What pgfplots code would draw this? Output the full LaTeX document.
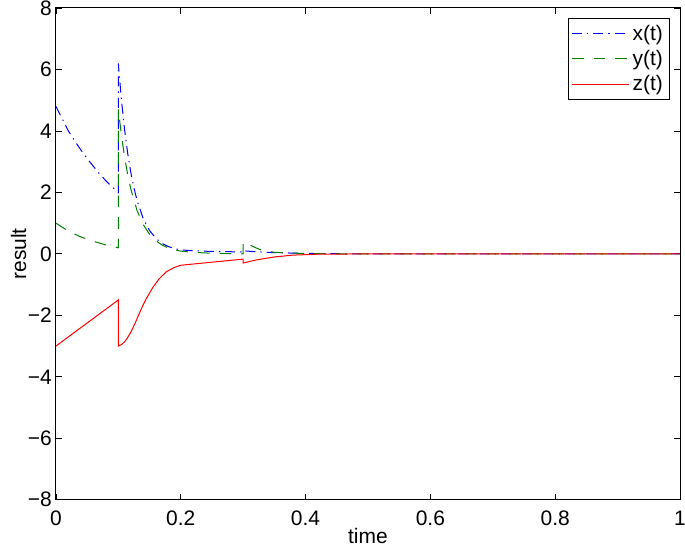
\documentclass[border=0pt]{standalone}
\usepackage{pgfplots}
\pgfplotsset{compat=1.18}
\usepackage{fontspec}
\setmainfont{Liberation Sans}
\definecolor{mblue}{RGB}{0,0,255}
\definecolor{mgreen}{RGB}{0,128,0}
\definecolor{mred}{RGB}{255,0,0}

\begin{document}
\begin{tikzpicture}
\begin{axis}[width=375pt, height=295.5pt, scale only axis,
  xmin=0, xmax=1, ymin=-8, ymax=8,
  xtick={0,0.2,0.4,0.6,0.8,1},
  xticklabels={0,0.2,0.4,0.6,0.8,1},
  ytick={-8,-6,-4,-2,0,2,4,6,8},
  yticklabels={−8,−6,−4,−2,0,2,4,6,8},
  tick align=inside, major tick length=3.6pt,
  tick style={black, line width=0.5pt},
  axis line style={black, line width=0.6pt},
  font=\fontsize{12.6}{15}\selectfont,
  xlabel={time}, ylabel={result},
  xlabel style={yshift=5pt},
  ylabel style={yshift=-6pt},
  xticklabel style={yshift=-3pt},
  yticklabel style={xshift=1pt},
  legend cell align=left,
  legend style={at={(0.984,0.98)}, anchor=north east, draw=black,
    line width=0.6pt, font=\fontsize{12.6}{15}\selectfont,
    row sep=0.5pt, inner sep=2pt},
  legend image code/.code={\draw[#1] (0pt,0pt) -- (34pt,0pt);},
]
\addplot[color=mblue, draw=mblue, line width=0.6pt, dash pattern=on 6pt off 3pt on 0.8pt off 3pt] coordinates {
 (0,4.8) (0.01,4.4) (0.02,4.0) (0.03,3.68) (0.04,3.38) (0.05,3.1)
 (0.06,2.85) (0.07,2.6) (0.08,2.38) (0.09,2.18) (0.1,2.0)
 (0.1,6.2) (0.105,5.0) (0.11,4.05) (0.115,3.27) (0.12,2.65) (0.125,2.15)
 (0.13,1.74) (0.14,1.14) (0.15,0.76) (0.16,0.51) (0.17,0.34) (0.18,0.24)
 (0.19,0.17) (0.2,0.13) (0.22,0.1) (0.25,0.08) (0.28,0.07) (0.3,0.06)
 (0.3,0.1) (0.32,0.07) (0.35,0.04) (0.4,0.015) (0.45,0.005) (0.5,0) (1,0)};
\addlegendentry{x(t)}
\addplot[color=mgreen, draw=mgreen, line width=0.6pt, dash pattern=on 7pt off 6pt] coordinates {
 (0,1.0) (0.02,0.74) (0.04,0.55) (0.06,0.41) (0.08,0.29) (0.1,0.2)
 (0.1,4.7) (0.105,3.85) (0.11,3.15) (0.115,2.58) (0.12,2.11) (0.13,1.41)
 (0.14,0.95) (0.15,0.64) (0.16,0.43) (0.17,0.29) (0.18,0.19) (0.19,0.13)
 (0.2,0.09) (0.22,0.05) (0.25,0.02) (0.3,0.0)
 (0.3,0.38) (0.31,0.3) (0.32,0.2) (0.33,0.12) (0.35,0.05) (0.4,0.01)
 (0.45,0) (1,0)};
\addlegendentry{y(t)}
\addplot[color=mred, draw=mred, line width=0.6pt, solid] coordinates {
 (0,-3.0) (0.1,-1.5) (0.1,-3.0) (0.105,-2.95) (0.11,-2.86) (0.115,-2.72)
 (0.12,-2.55) (0.127,-2.25) (0.134,-1.92) (0.14,-1.65) (0.145,-1.45)
 (0.155,-1.1) (0.165,-0.82) (0.177,-0.58) (0.19,-0.44) (0.2,-0.37)
 (0.3,-0.17) (0.3,-0.3) (0.32,-0.2) (0.35,-0.1) (0.38,-0.04) (0.42,-0.01)
 (0.5,0) (1,0)};
\addlegendentry{z(t)}
\end{axis}
\pgfresetboundingbox
\useasboundingbox ([xshift=-33.6pt,yshift=-30pt]current axis.south west)
  rectangle ([xshift=3pt,yshift=4.8pt]current axis.north east);
\end{tikzpicture}
\end{document}
